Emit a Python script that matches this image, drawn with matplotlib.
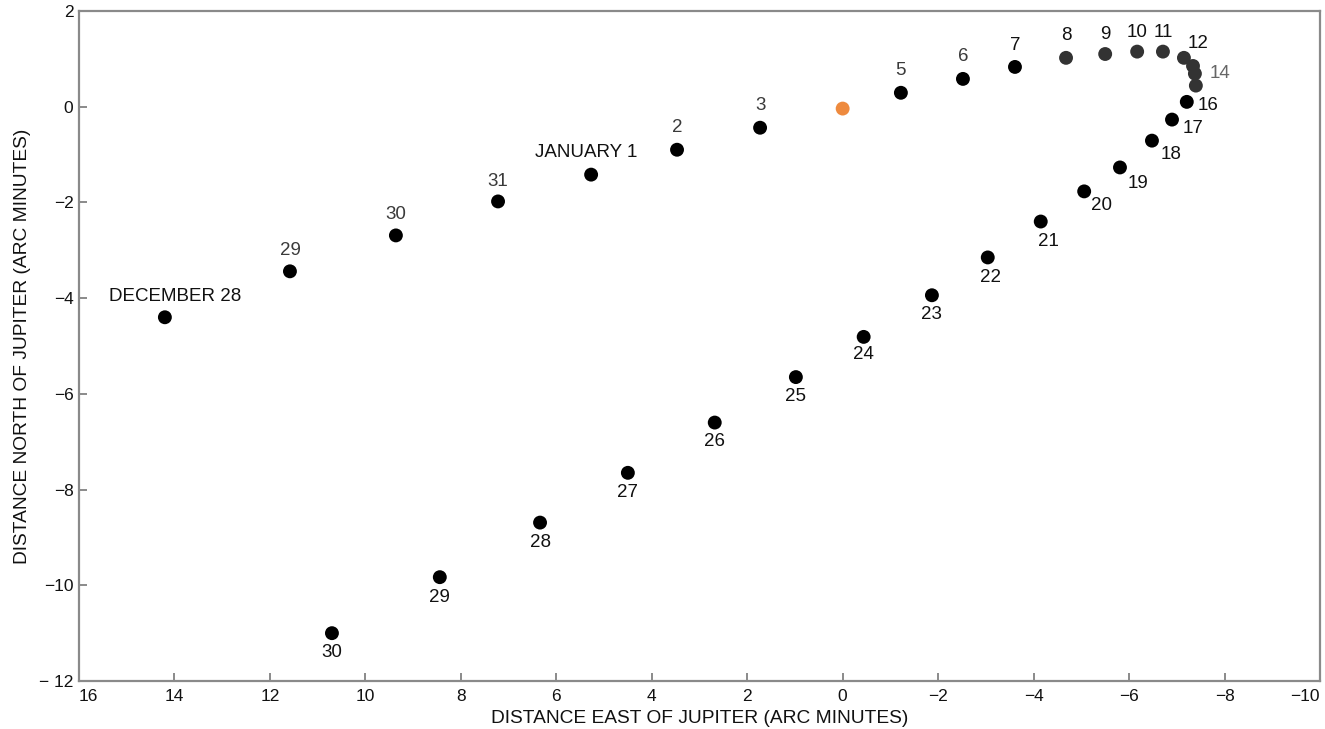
import matplotlib
matplotlib.use("Agg")
import matplotlib.pyplot as plt

plt.rcParams['font.family'] = ['Liberation Sans', 'DejaVu Sans']

# Positions of the moon relative to Jupiter (arc minutes), one per night
day_labels = ["DECEMBER 28", "29", "30", "31", "JANUARY 1", "2", "3", "", "5", "6", "7",
              "8", "9", "10", "11", "12", "", "14", "", "16", "17", "18", "19", "20",
              "21", "22", "23", "24", "25", "26", "27", "28", "29", "30"]
east = [14.2, 11.58, 9.36, 7.22, 5.27, 3.47, 1.73, 0.0, -1.22, -2.52, -3.61,
        -4.68, -5.50, -6.17, -6.71, -7.15, -7.34, -7.38, -7.40, -7.21, -6.90, -6.48, -5.81, -5.06,
        -4.15, -3.04, -1.87, -0.44, 0.98, 2.68, 4.50, 6.34, 8.44, 10.70]
north = [-4.40, -3.44, -2.69, -1.98, -1.42, -0.90, -0.44, -0.04, 0.29, 0.58, 0.83,
         1.02, 1.10, 1.15, 1.15, 1.02, 0.85, 0.69, 0.44, 0.10, -0.27, -0.71, -1.27, -1.77,
         -2.40, -3.15, -3.94, -4.81, -5.65, -6.60, -7.65, -8.69, -9.83, -11.0]

x_ticks = [16, 14, 12, 10, 8, 6, 4, 2, 0, -2, -4, -6, -8, -10]
y_ticks = [2, 0, -2, -4, -6, -8, -10, -12]
y_tick_labels = ["2", "0", "\u22122", "\u22124", "\u22126", "\u22128", "\u221210", "\u2212 12"]

# Label placement (pixel offsets, x right / y up)
label_offsets = [(10, 21), (0, 21), (0, 21), (0, 20), (-5, 22), (0, 22), (0, 22), (0, 0),
                 (0, 22), (0, 22), (0, 21), (0, 22), (0, 20), (0, 19), (0, 19), (14, 14),
                 (0, 0), (25, 0), (0, 0), (21, -4), (21, -9), (19, -14), (18, -16), (17, -14),
                 (8, -20), (3, -20), (0, -19), (0, -18), (0, -19), (0, -19), (0, -20),
                 (0, -20), (0, -20), (0, -19)]

fig = plt.figure(figsize=(13.25, 7.29), dpi=100)
ax = fig.add_axes([0.0596, 0.0658, 0.9366, 0.9192])

colors = []
for i, lab in enumerate(day_labels):
    if i == 7:
        colors.append("#ee8a3e")
    elif 11 <= i <= 18:
        colors.append("#333333")
    else:
        colors.append("#000000")

ax.scatter(east, north, s=100, c=colors, edgecolors="none", zorder=3)

for i, (lab, x, y) in enumerate(zip(day_labels, east, north)):
    if not lab:
        continue
    dx, dy = label_offsets[i]
    col = "#111111"
    if i in (1, 2, 3, 5, 6, 8, 9):
        col = "#3a3a3a"
    if i == 17:
        col = "#666666"
    ax.annotate(lab, (x, y), xytext=(dx, dy), textcoords="offset pixels",
                ha="center", va="center", fontsize=13.5, color=col)

ax.set_xlim(16, -10)
ax.set_ylim(-12, 2)
ax.set_xticks(x_ticks)
ax.set_yticks(y_ticks)
ax.set_xticklabels([str(t).replace("-", "\u2212") for t in x_ticks])
ax.set_yticklabels(y_tick_labels)
xt = ax.get_xticklabels()
xt[0].set_ha("left")
xt[-1].set_ha("right")

for side in ("top", "right", "left", "bottom"):
    ax.spines[side].set_color("#8a8a8a")
    ax.spines[side].set_linewidth(1.6)

ax.tick_params(axis="both", direction="in", length=6, width=1.4, color="#8a8a8a",
               labelsize=12.5, labelcolor="#111111")
ax.tick_params(axis="x", pad=6)
ax.tick_params(axis="y", pad=4)

ax.set_xlabel("DISTANCE EAST OF JUPITER (ARC MINUTES)", fontsize=13.8, color="#111111", labelpad=4)
ax.set_ylabel("DISTANCE NORTH OF JUPITER (ARC MINUTES)", fontsize=13.8, color="#111111", labelpad=6)

fig.savefig("out.png", dpi=100, facecolor="white")
